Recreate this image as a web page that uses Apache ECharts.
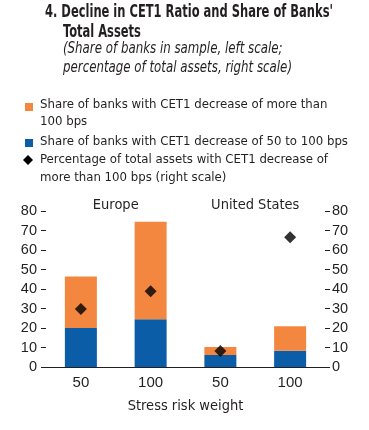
<!DOCTYPE html>
<html><head><meta charset="utf-8">
<script src="https://cdn.jsdelivr.net/npm/echarts@6/dist/echarts.min.js"></script>
<style>html,body{margin:0;padding:0;background:#fff}#c{width:369px;height:430px}</style>
</head><body><div id="c"></div>
<script>
const categories = ['50', '100', '50', '100'];
const regions = ['Europe', 'United States'];
const share50to100 = [20, 24.5, 6.1, 8.3];
const shareOver100 = [26.4, 50, 4.1, 12.6];
const assetsOver100 = [29.7, 38.9, 8.2, 66.5];
const yTicks = [0, 10, 20, 30, 40, 50, 60, 70, 80];

const NARROW = '"Liberation Sans Narrow", "DejaVu Sans Condensed", sans-serif';
const REG = '"Liberation Sans", Arial, sans-serif';
const ORANGE = '#F3873F', BLUE = '#0C5DA8', TXT = '#231F20';

const ctx = document.createElement('canvas').getContext('2d');
function fitScale(text, font, target) { ctx.font = font; return target / ctx.measureText(text).width; }

const titleFont = 'bold 18px ' + NARROW;
const titleScale = fitScale("4. Decline in CET1 Ratio and Share of Banks'", titleFont, 288);
const subFont = 'italic 15px ' + NARROW;
const subScale = fitScale('percentage of total assets, right scale)', subFont, 229);
const legFont = '13px ' + NARROW;
const legScale = fitScale('Share of banks with CET1 decrease of 50 to 100 bps', legFont, 308);

function txt(x, y, text, font, s) {
  return {type: 'text', x: x, y: y, scaleX: s, silent: true,
    style: {text: text, font: font, fill: TXT, verticalAlign: 'middle', align: 'left'}};
}

const chart = echarts.init(document.getElementById('c'));
chart.setOption({
  animation: false,
  graphic: [
    txt(45, 12.5, "4. Decline in CET1 Ratio and Share of Banks'", titleFont, titleScale),
    txt(63, 32.5, 'Total Assets', titleFont, titleScale),
    txt(63, 49, '(Share of banks in sample, left scale;', subFont, subScale),
    txt(63, 68, 'percentage of total assets, right scale)', subFont, subScale),
    {type: 'rect', shape: {x: 25, y: 103, width: 8, height: 8}, style: {fill: ORANGE}},
    txt(40, 104.7, 'Share of banks with CET1 decrease of more than', legFont, legScale),
    txt(40, 122, '100 bps', legFont, legScale),
    {type: 'rect', shape: {x: 25, y: 139, width: 8, height: 8}, style: {fill: BLUE}},
    txt(40, 142, 'Share of banks with CET1 decrease of 50 to 100 bps', legFont, legScale),
    {type: 'polygon', shape: {points: [[28, 155], [33, 160], [28, 165], [23, 160]]}, style: {fill: '#000'}},
    txt(40, 159.7, 'Percentage of total assets with CET1 decrease of', legFont, legScale),
    txt(40, 177.3, 'more than 100 bps (right scale)', legFont, legScale)
  ],
  grid: {left: 46, right: 44, top: 211, bottom: 63},
  xAxis: [
    {type: 'category', data: categories, position: 'bottom',
     axisLine: {lineStyle: {color: TXT, width: 1}},
     axisTick: {inside: true, length: 4, lineStyle: {color: TXT}},
     axisLabel: {color: TXT, fontFamily: REG, fontSize: 15, margin: 8},
     name: 'Stress risk weight', nameLocation: 'middle', nameGap: 32,
     nameTextStyle: {color: TXT, fontFamily: NARROW, fontSize: 14.5}},
    {type: 'category', data: regions, position: 'top',
     axisLine: {show: false}, axisTick: {show: false},
     axisLabel: {color: TXT, fontFamily: NARROW, fontSize: 14.5, margin: 6, verticalAlign: 'middle'}}
  ],
  yAxis: [
    {type: 'value', min: 0, max: 80, interval: 10, position: 'left',
     splitLine: {show: false}, axisLine: {show: false},
     axisTick: {show: true, length: 5, lineStyle: {color: TXT}},
     axisLabel: {color: TXT, fontFamily: REG, fontSize: 14.5, margin: 9,
       formatter: v => yTicks.includes(v) ? String(v) : ''}},
    {type: 'value', min: 0, max: 80, interval: 10, position: 'right',
     splitLine: {show: false}, axisLine: {show: false},
     axisTick: {show: true, length: 5, lineStyle: {color: TXT}},
     axisLabel: {color: TXT, fontFamily: REG, fontSize: 14.5, margin: 7,
       formatter: v => yTicks.includes(v) ? String(v) : ''}}
  ],
  series: [
    {type: 'bar', stack: 's', data: share50to100, barWidth: 32, itemStyle: {color: BLUE}},
    {type: 'bar', stack: 's', data: shareOver100, barWidth: 32, itemStyle: {color: ORANGE}},
    {type: 'scatter', yAxisIndex: 1, data: assetsOver100, symbol: 'diamond', symbolSize: 12,
     itemStyle: {color: '#000'}, z: 5}
  ]
});
</script></body></html>
